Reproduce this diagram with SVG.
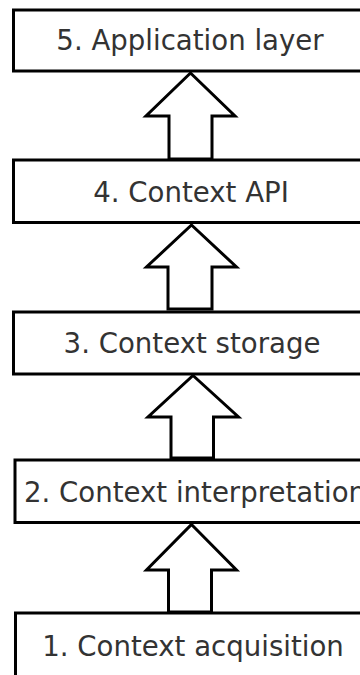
<svg xmlns="http://www.w3.org/2000/svg" width="360" height="675" viewBox="0 0 360 675">
  <style>
    .box { fill: #ffffff; stroke: #000000; stroke-width: 3; }
    .label { font-family: "DejaVu Sans", "Liberation Sans", sans-serif; font-size: 27.6px; fill: #333333; text-anchor: middle; }
    .arrow { fill: #ffffff; stroke: #000000; stroke-width: 3; stroke-linejoin: miter; }
  </style>
  <rect width="360" height="675" fill="#ffffff"/>

  <!-- layers, bottom-up stack; right edges run past the canvas -->
  <g id="layer5">
    <rect class="box" x="13.5" y="10" width="370" height="61"/>
    <text class="label" x="190" y="50">5. Application layer</text>
  </g>
  <g id="layer4">
    <rect class="box" x="13.5" y="160" width="370" height="62.5"/>
    <text class="label" x="191" y="201.5">4. Context API</text>
  </g>
  <g id="layer3">
    <rect class="box" x="13.5" y="312" width="370" height="62"/>
    <text class="label" x="192" y="353.3">3. Context storage</text>
  </g>
  <g id="layer2">
    <rect class="box" x="15" y="460" width="370" height="62.5"/>
    <text class="label" x="195" y="501.5">2. Context interpretation</text>
  </g>
  <g id="layer1">
    <rect class="box" x="15.5" y="613" width="370" height="100"/>
    <text class="label" x="193" y="655.7">1. Context acquisition</text>
  </g>

  <!-- block arrows between layers -->
  <g id="connectors">
    <path class="arrow" d="M190.5,73 L235,116 L212,116 L212,159 L169,159 L169,116 L146,116 Z"/>
    <path class="arrow" d="M191.5,225 L236.5,267 L212,267 L212,309 L168,309 L168,267 L146.5,267 Z"/>
    <path class="arrow" d="M193,375.5 L238.5,417 L213.5,417 L213.5,458 L171,458 L171,417 L148,417 Z"/>
    <path class="arrow" d="M191.5,524.5 L236.5,570 L211.5,570 L211.5,612 L168.5,612 L168.5,570 L146.5,570 Z"/>
  </g>
</svg>
